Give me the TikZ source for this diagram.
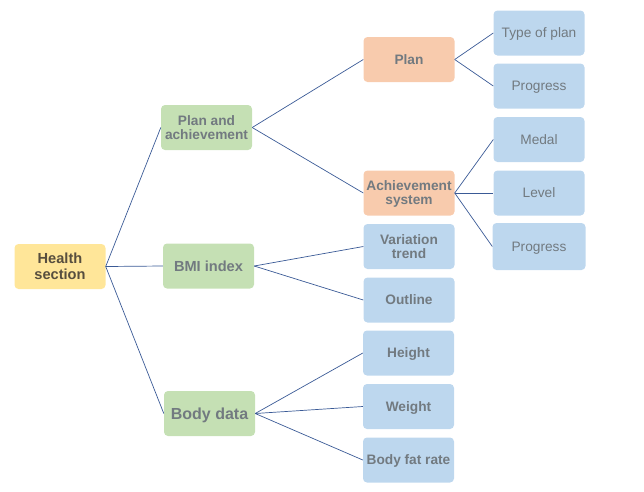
\documentclass[tikz,border=0pt]{standalone}
\usepackage{fontspec}
\setmainfont{Liberation Sans}
\usepackage{tikz}
\usetikzlibrary{positioning}
\definecolor{rootfill}{HTML}{FFE699}
\definecolor{greenfill}{HTML}{C5E0B4}
\definecolor{orangefill}{HTML}{F8CBAD}
\definecolor{bluefill}{HTML}{BDD7EE}
\definecolor{roottext}{HTML}{574E3E}
\definecolor{boxtext}{HTML}{727A80}
\definecolor{linkblue}{HTML}{3A5A96}

\begin{document}
\begin{tikzpicture}[x=1pt,y=-1pt,
	box/.style={rounded corners=4pt, minimum width=91pt, minimum height=45pt, inner sep=0pt, align=center, text depth=0pt, text=boxtext, font=\bfseries\fontsize{13.7}{14}\selectfont},
	root/.style={box, fill=rootfill, text=roottext, font=\bfseries\fontsize{14.6}{16}\selectfont},
	topic/.style={box, fill=greenfill},
	sub/.style={box, fill=orangefill},
	leaf/.style={box, fill=bluefill},
	thin leaf/.style={leaf, font=\fontsize{13.7}{14}\selectfont},
	link/.style={linkblue, line width=0.7pt}]
		\useasboundingbox (0,0) rectangle (644,491);
		\node [root] (health) at (60,266.5) {Health\\section};
		\node [topic] (plan and ach) at (206.5,127.5) {Plan and\\achievement};
		\node [topic, font=\bfseries\fontsize{14.6}{16}\selectfont] (bmi) at (208.5,266) {BMI index};
		\node [topic, font=\bfseries\fontsize{16}{18}\selectfont] (body) at (209.5,413.5) {Body data};
		\node [sub] (plan) at (409,59.5) {Plan};
		\node [sub] (ach) at (409,193) {Achievement\\system};
		\node [leaf] (trend) at (409,246.5) {Variation\\trend};
		\node [leaf] (outline) at (409,300) {Outline};
		\node [leaf] (height) at (408.5,353) {Height};
		\node [leaf] (weight) at (408.5,406.5) {Weight};
		\node [leaf] (fat) at (408.5,460) {Body fat rate};
		\node [thin leaf] (type) at (539,33) {Type of plan};
		\node [thin leaf] (progress a) at (539,86) {Progress};
		\node [thin leaf] (medal) at (539,139.5) {Medal};
		\node [thin leaf] (level) at (539,193) {Level};
		\node [thin leaf, minimum width=93pt, minimum height=47pt] (progress b) at (539,246.5) {Progress};
		\foreach \c in {plan and ach,bmi,body}
			\draw [link] (health.east) -- (\c.west);
		\foreach \c in {plan,ach}
			\draw [link] (plan and ach.east) -- (\c.west);
		\foreach \c in {trend,outline}
			\draw [link] (bmi.east) -- (\c.west);
		\foreach \c in {height,weight,fat}
			\draw [link] (body.east) -- (\c.west);
		\foreach \c in {type,progress a}
			\draw [link] (plan.east) -- (\c.west);
		\foreach \c in {medal,level,progress b}
			\draw [link] (ach.east) -- (\c.west);
\end{tikzpicture}
\end{document}
